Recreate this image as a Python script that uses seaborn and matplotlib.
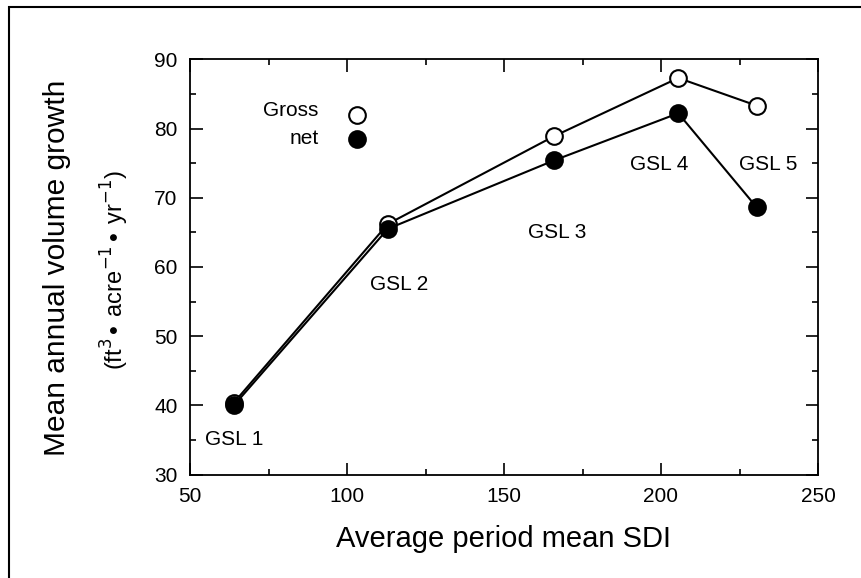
import numpy as np
import pandas as pd
import matplotlib
matplotlib.use("Agg")
import matplotlib.pyplot as plt
from matplotlib.patches import Rectangle
from matplotlib.ticker import MultipleLocator
import seaborn as sns

# 데이터
sdi = [64, 113, 166, 205.5, 230.5]
gross = [40.4, 66.2, 78.9, 87.3, 83.3]
net = [40.0, 65.5, 75.4, 82.2, 68.6]
gsl_labels = ['GSL 1', 'GSL 2', 'GSL 3', 'GSL 4', 'GSL 5']
gsl_x = [64, 116.5, 167, 199.5, 234]
gsl_y = [35.1, 57.5, 64.9, 74.8, 74.8]

sns.set_style("ticks")
plt.rcParams['font.family'] = ['Liberation Sans', 'DejaVu Sans']
plt.rcParams['text.color'] = 'black'
plt.rcParams['axes.labelcolor'] = 'black'
plt.rcParams['xtick.color'] = 'black'
plt.rcParams['ytick.color'] = 'black'

df = pd.DataFrame({'sdi': sdi, 'gross': gross, 'net': net})

fig = plt.figure(figsize=(8.61, 5.78), dpi=100)
ax = fig.add_axes([190 / 861, 1 - 474.5 / 578, (818 - 190) / 861, (474.5 - 59.3) / 578])

# 총 생장량 (흰 원)
sns.lineplot(data=df, x='sdi', y='gross', ax=ax, color='black', lw=1.5,
             marker='o', markersize=12, markerfacecolor='white',
             markeredgecolor='black', markeredgewidth=1.5)
# 순 생장량 (검은 원)
sns.lineplot(data=df, x='sdi', y='net', ax=ax, color='black', lw=1.5,
             marker='o', markersize=12, markerfacecolor='black',
             markeredgecolor='black', markeredgewidth=1.5)

# 범례 (수동)
ax.plot([103.3], [82], 'o', ms=12, mfc='white', mec='black', mew=1.5)
ax.plot([103.3], [78.5], 'o', ms=12, mfc='black', mec='black', mew=1.5)
ax.text(91, 82.6, 'Gross', ha='right', va='center', fontsize=15)
ax.text(91, 78.5, 'net', ha='right', va='center', fontsize=15)

for lab, x, y in zip(gsl_labels, gsl_x, gsl_y):
    ax.text(x, y, lab, ha='center', va='center', fontsize=15)

ax.set_xlim(50, 250)
ax.set_ylim(30, 90)
ax.xaxis.set_major_locator(MultipleLocator(50))
ax.xaxis.set_minor_locator(MultipleLocator(25))
ax.yaxis.set_major_locator(MultipleLocator(10))
ax.yaxis.set_minor_locator(MultipleLocator(5))
ax.tick_params(which='major', direction='in', length=9, width=1.2,
               top=True, right=True, labelsize=15, pad=9)
ax.tick_params(which='minor', direction='in', length=4.5, width=1.2,
               top=True, right=True)
for s in ax.spines.values():
    s.set_linewidth(1.3)
    s.set_color('black')

ax.set_xlabel('Average period mean SDI', fontsize=21, labelpad=14)
ax.set_ylabel('')

fig.text(57 / 861, 1 - 268 / 578, 'Mean annual volume growth', rotation=90,
         ha='center', va='center', fontsize=21.5)
fig.text(115 / 861, 1 - 270 / 578,
         r'(ft$^{3}$$\bullet$ acre$^{-1}$$\bullet$ yr$^{-1}$)', rotation=90,
         ha='center', va='center', fontsize=17)

# 바깥 테두리
fig.patches.append(Rectangle((9 / 861, -0.1), 1.2, 1.1 - 7 / 578,
                             transform=fig.transFigure, fill=False,
                             edgecolor='black', lw=1.5))

fig.savefig('out.png', dpi=100)
